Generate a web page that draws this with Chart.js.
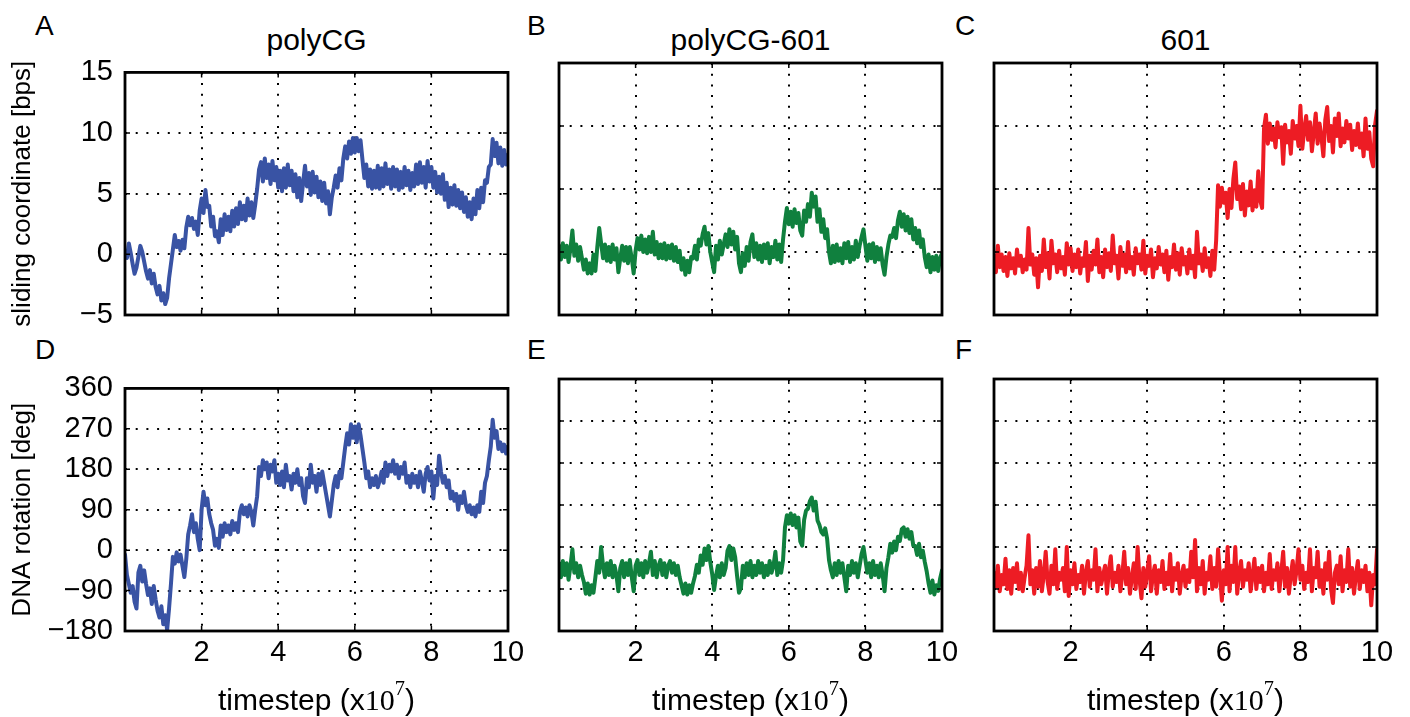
<!DOCTYPE html>
<html>
<head>
<meta charset="utf-8">
<script src="https://cdn.jsdelivr.net/npm/chart.js@4.4.1/dist/chart.umd.min.js"></script>
<style>
    body { margin: 0; width: 1410px; height: 717px; background: #fff; position: relative; overflow: hidden;
           font-family: 'Liberation Sans', Arial, sans-serif; color: #000; }
    .panel { position: absolute; width: 528px; height: 322px; }
    .letter { position: absolute; font-size: 28px; line-height: 28px; }
    .title { position: absolute; width: 383px; text-align: center; font-size: 30px; line-height: 30px; }
    .xtitle { position: absolute; width: 383px; text-align: center; font-size: 30px; line-height: 30px; top: 685px; }
    .math { font-family: 'Liberation Serif', 'DejaVu Serif', serif; }
    .math sup { font-size: 0.68em; line-height: 0; vertical-align: 0.75em; }
</style>
</head>
<body>

<div class="letter" style="left:35px;top:12px">A</div>
<div class="letter" style="left:527px;top:12px">B</div>
<div class="letter" style="left:955px;top:12px">C</div>
<div class="letter" style="left:35px;top:336px">D</div>
<div class="letter" style="left:527px;top:336px">E</div>
<div class="letter" style="left:955px;top:336px">F</div>

<div class="title" style="left:125px;top:25px">polyCG</div>
<div class="title" style="left:559px;top:25px">polyCG-601</div>
<div class="title" style="left:994px;top:25px">601</div>

<div class="panel" style="left:5px;top:43px"><canvas id="chartA"></canvas></div>
<div class="panel" style="left:439px;top:43px"><canvas id="chartB"></canvas></div>
<div class="panel" style="left:874px;top:43px"><canvas id="chartC"></canvas></div>
<div class="panel" style="left:5px;top:359px"><canvas id="chartD"></canvas></div>
<div class="panel" style="left:439px;top:359px"><canvas id="chartE"></canvas></div>
<div class="panel" style="left:874px;top:359px"><canvas id="chartF"></canvas></div>

<div class="xtitle" style="left:125px">timestep (x<span class="math">10<sup>7</sup></span>)</div>
<div class="xtitle" style="left:559px">timestep (x<span class="math">10<sup>7</sup></span>)</div>
<div class="xtitle" style="left:994px">timestep (x<span class="math">10<sup>7</sup></span>)</div>

<script>
// sampling grid: timestep in units of 1e7, every 0.05
const timesteps = Array.from({ length: 201 }, (_, i) => +(i * 0.05).toFixed(2));

const xTicks = [0, 2, 4, 6, 8, 10];
const slidingTicks = [-5, 0, 5, 10, 15];
const rotationTicks = [-180, -90, 0, 90, 180, 270, 360];

const slidingPolyCG = [
    0.2, -0.3, 0.9, 0.1, -0.8, -1.6, -1.1, -0.2, 0.7, 0.2, -0.6, -1.4, -2.0, -1.3, -2.4, -1.6, -2.7, -3.3, -2.6, -3.8,
    -3.2, -4.1, -3.6, -2.0, -0.8, 0.4, 1.6, 0.6, 1.1, 0.3, 1.2, 0.5, 2.2, 3.1, 2.4, 3.0, 2.1, 2.7, 1.6, 3.6,
    4.6, 3.4, 5.3, 3.9, 4.0, 2.3, 3.1, 1.5, 1.9, 1.0, 2.9, 1.6, 3.3, 2.0, 3.1, 1.9, 3.6, 2.3, 3.8, 2.5,
    4.3, 2.9, 4.0, 2.8, 4.6, 3.2, 4.3, 3.0, 4.1, 5.4, 7.0, 7.6, 6.0, 7.9, 6.3, 7.4, 5.8, 7.7, 6.1, 7.2,
    5.5, 6.9, 5.2, 7.1, 5.5, 7.4, 5.7, 6.9, 5.2, 6.6, 4.7, 6.3, 4.4, 5.9, 7.3, 5.6, 6.7, 4.9, 6.8, 5.1,
    6.4, 4.7, 6.0, 4.4, 5.9, 4.2, 5.2, 3.3, 4.7, 5.5, 6.5, 5.5, 7.1, 6.1, 7.9, 8.9, 7.9, 9.3, 8.3, 9.6,
    8.4, 9.6, 8.5, 9.4, 7.8, 6.3, 7.4, 5.6, 7.0, 5.4, 6.9, 5.5, 7.3, 5.4, 7.1, 5.6, 7.5, 5.8, 7.0, 5.4,
    7.2, 5.6, 7.0, 5.3, 6.8, 5.5, 7.2, 5.7, 6.9, 5.3, 6.7, 5.6, 7.4, 5.8, 7.6, 5.9, 7.2, 5.5, 7.7, 6.0,
    7.2, 5.5, 6.8, 5.1, 6.4, 5.0, 6.6, 4.5, 5.9, 3.9, 5.5, 4.1, 5.7, 4.0, 5.3, 3.8, 5.1, 3.5, 4.7, 3.1,
    4.3, 2.9, 4.6, 3.3, 5.3, 3.8, 5.5, 4.3, 6.1, 5.9, 7.2, 7.4, 9.5, 8.1, 9.2, 7.5, 8.8, 7.3, 8.6, 7.4,
    8.2
];
const slidingPolyCG601 = [
    0.5, -0.6, 0.7, -0.4, 0.5, -0.8, 0.3, 1.7, -0.3, 0.6, -0.7, 0.4, -0.5, -1.4, -0.6, -1.7, -0.9, -1.7, -0.2, -1.5,
    0.4, 1.9, 0.7, -0.5, 0.6, -0.7, 0.4, -0.8, 0.6, -0.6, 0.3, -1.6, -0.5, 0.5, -0.7, 0.4, -0.9, 0.4, -0.5, -1.7,
    0.1, 1.1, 0.2, 1.3, 0.0, 1.0, -0.1, 1.2, 0.0, 1.6, -0.2, 0.8, -0.5, 0.6, -0.5, 0.7, -0.6, 0.5, -0.5, 0.6,
    -0.7, 0.4, -0.8, 0.1, -1.4, -0.5, -1.8, -0.7, -1.6, -0.4, -0.5, 0.5, -0.6, 1.0, 0.5, 1.4, 2.0, 0.6, 1.5, 0.0,
    -0.8, -1.6, 0.5, -0.6, 0.9, -0.2, 0.6, 1.4, 0.4, 1.8, 0.6, 1.6, 0.2, 1.2, -0.9, -1.6, -0.1, -1.1, 0.4, -0.7,
    0.8, 1.4, -0.4, 0.7, -0.6, 0.5, -0.8, 0.6, -0.5, 0.7, -0.9, 0.4, -0.4, 0.9, -0.6, 0.6, -0.8, 1.0, 2.4, 3.5,
    2.2, 3.2, 2.0, 3.4, 2.3, 3.1, 1.7, 1.3, 3.3, 2.4, 3.8, 2.8, 4.7, 3.6, 4.4, 2.4, 3.4, 1.6, 2.6, 1.1,
    1.8, 0.0, -0.9, 0.5, -0.8, 0.6, -0.7, 0.3, -0.9, 0.7, -0.5, 0.8, -0.8, 0.4, -0.6, 0.9, -0.4, 0.5, 1.2, 1.8,
    0.5, -0.7, 0.6, -0.5, 0.7, -0.8, 0.4, -0.6, 0.3, -1.0, -1.8, -0.4, 0.6, 1.3, 1.2, 1.9, 1.1, 2.5, 3.2, 2.0,
    3.0, 1.7, 2.8, 1.5, 2.6, 1.0, 1.9, 0.7, 1.7, 0.4, 1.0, -0.4, -1.2, -0.2, -1.6, -0.4, -1.4, -0.3, -1.5, -0.5,
    -0.1
];
const sliding601 = [
    -0.3, -1.6, 0.5, -1.2, -0.2, -1.5, -0.4, -1.9, -0.1, -1.3, -0.5, -1.7, 0.2, -1.1, -0.3, -1.6, -0.6, -1.4, 1.9, -1.0,
    -0.2, -1.8, -0.5, -2.8, -0.3, -1.5, 1.0, -1.2, -0.1, -2.1, 0.9, -0.9, -0.2, -1.6, 0.1, -1.3, -0.4, -1.8, 0.7, -1.0,
    0.3, -1.5, -0.2, -1.2, 0.2, -1.7, -0.5, -1.1, 0.8, -2.3, -0.3, -1.4, 0.1, -1.0, 1.0, -1.6, -0.4, -2.0, 0.2, -1.2,
    -0.1, -1.5, 1.3, -0.9, -0.3, -2.1, 0.4, -1.1, -0.2, -1.6, 0.8, -1.3, -0.4, -1.8, 0.3, -0.9, -0.2, -1.4, 0.9, -1.7,
    -0.3, -1.1, 0.2, -2.0, -0.5, -1.3, 0.4, -1.0, -0.2, -1.6, 0.1, -2.2, -0.4, -1.2, 0.6, -1.4, -0.1, -1.8, 0.3, -1.0,
    -0.4, -1.7, 0.2, -1.3, -0.3, -2.0, 1.6, -0.9, -0.2, -1.5, 0.3, -1.2, -0.5, -1.9, 0.1, -1.4, 0.9, 5.3, 3.6, 5.1,
    3.9, 4.7, 2.7, 5.0, 3.5, 5.8, 7.1, 4.2, 5.2, 3.4, 5.4, 2.9, 4.8, 3.7, 5.6, 3.3, 4.9, 3.6, 6.4, 4.1,
    3.5, 9.8, 10.9, 8.6, 10.2, 8.9, 9.8, 8.3, 10.3, 9.1, 9.9, 7.0, 10.1, 8.7, 9.6, 7.8, 10.4, 9.0, 10.0, 8.4,
    11.6, 8.2, 9.7, 10.8, 8.9, 10.3, 8.0, 9.5, 11.0, 8.6, 10.2, 9.1, 7.6, 10.5, 11.5, 8.8, 10.0, 7.9, 10.6, 9.2,
    11.0, 8.4, 9.8, 8.7, 10.4, 9.0, 10.1, 8.1, 9.6, 8.5, 10.2, 8.3, 9.4, 7.6, 10.6, 8.2, 9.5, 7.4, 6.8, 10.1,
    11.2
];

const rotationPolyCG = [
    -10, -55, -75, -95, -80, -115, -130, -50, -35, -70, -45, -75, -100, -85, -120, -80, -110, -135, -150, -125,
    -165, -145, -178, -130, -75, -15, -30, -5, -25, -10, -35, -60, -20, 35, 55, 80, 40, 60, 25, 0,
    90, 130, 100, 115, 80, 60, 45, 10, 25, 5, 55, 30, 60, 40, 55, 35, 65, 45, 60, 40,
    85, 100, 80, 95, 75, 100, 85, 55, 90, 120, 185, 165, 200, 180, 195, 160, 190, 175, 200, 150,
    170, 145, 175, 140, 190, 155, 165, 135, 170, 150, 180, 145, 160, 120, 105, 160, 140, 190, 150, 165,
    130, 170, 145, 175, 150, 125, 100, 75, 110, 145, 165, 140, 175, 160, 195, 230, 260, 235, 280, 250,
    275, 240, 280, 255, 225, 195, 160, 175, 140, 160, 145, 165, 140, 155, 175, 150, 195, 165, 190, 175,
    200, 170, 190, 160, 185, 170, 195, 150, 165, 140, 170, 150, 165, 140, 175, 155, 130, 170, 185, 155,
    175, 115, 165, 145, 210, 175, 150, 165, 140, 155, 115, 130, 110, 125, 90, 120, 105, 130, 100, 85,
    100, 80, 95, 75, 100, 85, 130, 105, 150, 165, 200, 230, 290, 250, 265, 225, 240, 220, 235, 215,
    230
];
const rotationPolyCG601 = [
    -35, -65, -30, -60, -35, -70, -40, -5, -55, -35, -65, -40, -60, -75, -100, -78, -102, -82, -98, -65,
    -30, -55, 0, -40, -65, -35, -60, -30, -65, -40, -60, -95, -45, -30, -65, -35, -60, -28, -65, -95,
    -40, -28, -60, -35, -65, -30, -55, -35, -10, -60, -30, -65, -40, -28, -60, -35, -65, -40, -30, -55,
    -35, -60, -40, -65, -82, -100, -78, -102, -82, -98, -78, -62, -38, -55, -18, -38, -3, -28, 2, -32,
    -58, -92, -62, -40, -65, -35, -60, -45, -8, 2, -28, -3, -22, -62, -98, -88, -40, -65, -35, -60,
    -30, -65, -40, -60, -30, -55, -35, -65, -40, -60, -30, -55, -40, -10, -60, -35, -55, -28, 42, 68,
    50, 72, 47, 68, 42, 63, 12, 3, 58, 78, 82, 98, 106, 78, 97, 57, 47, 32, 27, 40,
    18, -28, -50, -65, -35, -60, -30, -55, -35, -65, -95, -40, -60, -30, -55, -35, -65, -40, -15, 0,
    -28, -55, -35, -65, -30, -60, -40, -65, -35, -60, -95, -45, -22, 7, -12, 12, -7, 22, 13, 38,
    42, 22, 38, 18, 32, 3, 2, -17, 7, -22, -8, -32, -52, -78, -98, -72, -102, -82, -94, -68,
    -50
];
const rotation601 = [
    -55, -85, -40, -95, -60, -80, -25, -90, -50, -100, -45, -75, -35, -90, -55, -95, -65, -40, 25, -80,
    -50, -100, -45, -85, -30, -95, -60, -10, -75, -100, -40, -80, -5, -90, -55, -70, -45, -95, 0, -105,
    -50, -80, -35, -90, -60, -75, -40, -100, -55, -30, -85, -50, -70, -5, -95, -45, -80, -60, -40, -100,
    -50, -20, -85, -55, -75, -40, -95, -60, -10, -80, -45, -100, -65, -35, -90, 0, -70, -110, -45, -85,
    -55, -20, -95, -60, -40, -100, -50, -75, -30, -90, -55, -80, -15, -95, -45, -70, -35, -100, -60, -40,
    -85, -50, -75, -10, -65, 15, -95, -45, -80, -30, -100, -55, -70, -20, -90, -45, -85, -5, -60, -115,
    -50, -80, 0, -95, -40, -75, 0, -100, -55, -30, -85, -50, -70, -35, -95, -60, -25, -90, -45, -75,
    -40, -95, -55, -80, -15, -90, -50, -70, -35, -95, -55, -10, -85, -45, -100, -60, -30, -80, -50, -5,
    -70, -40, -90, -55, -75, -5, -95, -45, -65, -10, -85, -50, -100, -35, -70, -10, -90, -120, -55, -40,
    -80, -20, -95, -50, -75, -5, -85, -45, -100, -60, -30, -90, -50, -75, -40, -95, -55, -125, -60, -80,
    -5
];

// Chart.js defaults
Chart.defaults.font.family = "'Liberation Sans', Arial, sans-serif";
Chart.defaults.color = '#000';
Chart.defaults.animation = false;

const colors = {
    polyCG: '#3953a4',
    polyCG601: '#10803e',
    n601: '#ed1c24'
};

// Frame and inward tick marks (matplotlib classic look)
const framePlugin = {
    id: 'frame',
    afterDraw(chart) {
        const { ctx, chartArea: a, scales } = chart;
        ctx.save();
        ctx.strokeStyle = '#000';
        ctx.lineWidth = 1.5;
        ctx.beginPath();
        scales.x.ticks.forEach(t => {
            const px = scales.x.getPixelForValue(t.value);
            ctx.moveTo(px, a.bottom); ctx.lineTo(px, a.bottom - 5);
            ctx.moveTo(px, a.top); ctx.lineTo(px, a.top + 5);
        });
        scales.y.ticks.forEach(t => {
            const py = scales.y.getPixelForValue(t.value);
            ctx.moveTo(a.left, py); ctx.lineTo(a.left + 5, py);
            ctx.moveTo(a.right, py); ctx.lineTo(a.right - 5, py);
        });
        ctx.stroke();
        ctx.lineWidth = 2.8;
        ctx.strokeRect(a.left, a.top, a.right - a.left, a.bottom - a.top);
        ctx.restore();
    }
};

function minus(v) {
    return v < 0 ? '\u2212' + Math.abs(v) : String(v);
}

// One panel: a single trace against timestep
function initPanel(id, values, color, yTicks, showYLabels, showXLabels, yTitle) {
    const ctx = document.getElementById(id);
    if (!ctx) return;

    new Chart(ctx, {
        type: 'line',
        data: {
            datasets: [{
                data: values.map((v, i) => ({ x: timesteps[i], y: v })),
                borderColor: color,
                borderWidth: 4,
                borderJoinStyle: 'round',
                borderCapStyle: 'round',
                pointRadius: 0,
                tension: 0
            }]
        },
        options: {
            responsive: true,
            maintainAspectRatio: false,
            parsing: false,
            normalized: true,
            layout: {
                autoPadding: false,
                padding: { left: 0, top: 20, right: 25, bottom: 0 }
            },
            plugins: {
                legend: { display: false },
                tooltip: { enabled: false }
            },
            scales: {
                x: {
                    type: 'linear',
                    min: xTicks[0],
                    max: xTicks[xTicks.length - 1],
                    z: 1,
                    afterFit: s => { s.height = 50; },
                    afterBuildTicks: s => { s.ticks = xTicks.map(v => ({ value: v })); },
                    ticks: {
                        display: showXLabels,
                        autoSkip: false,
                        maxRotation: 0,
                        padding: 5,
                        font: { size: 29 },
                        callback: v => (v === 0 ? '' : String(v))
                    },
                    grid: { color: '#000', lineWidth: 2, drawTicks: false },
                    border: { display: false, dash: [2, 8.7] }
                },
                y: {
                    min: yTicks[0],
                    max: yTicks[yTicks.length - 1],
                    z: 1,
                    afterFit: s => { s.width = 120; },
                    afterBuildTicks: s => { s.ticks = yTicks.map(v => ({ value: v })); },
                    ticks: {
                        display: showYLabels,
                        autoSkip: false,
                        padding: 12,
                        font: { size: 29 },
                        callback: v => minus(v)
                    },
                    grid: { color: '#000', lineWidth: 2, drawTicks: false },
                    border: { display: false, dash: [2, 8.7] },
                    title: {
                        display: !!yTitle,
                        text: yTitle || '',
                        font: { size: 26 },
                        padding: { top: 2, bottom: 0 }
                    }
                }
            }
        },
        plugins: [framePlugin]
    });
}

initPanel('chartA', slidingPolyCG, colors.polyCG, slidingTicks, true, false, 'sliding coordinate [bps]');
initPanel('chartB', slidingPolyCG601, colors.polyCG601, slidingTicks, false, false, null);
initPanel('chartC', sliding601, colors.n601, slidingTicks, false, false, null);
initPanel('chartD', rotationPolyCG, colors.polyCG, rotationTicks, true, true, 'DNA rotation [deg]');
initPanel('chartE', rotationPolyCG601, colors.polyCG601, rotationTicks, false, true, null);
initPanel('chartF', rotation601, colors.n601, rotationTicks, false, true, null);
</script>
</body>
</html>
